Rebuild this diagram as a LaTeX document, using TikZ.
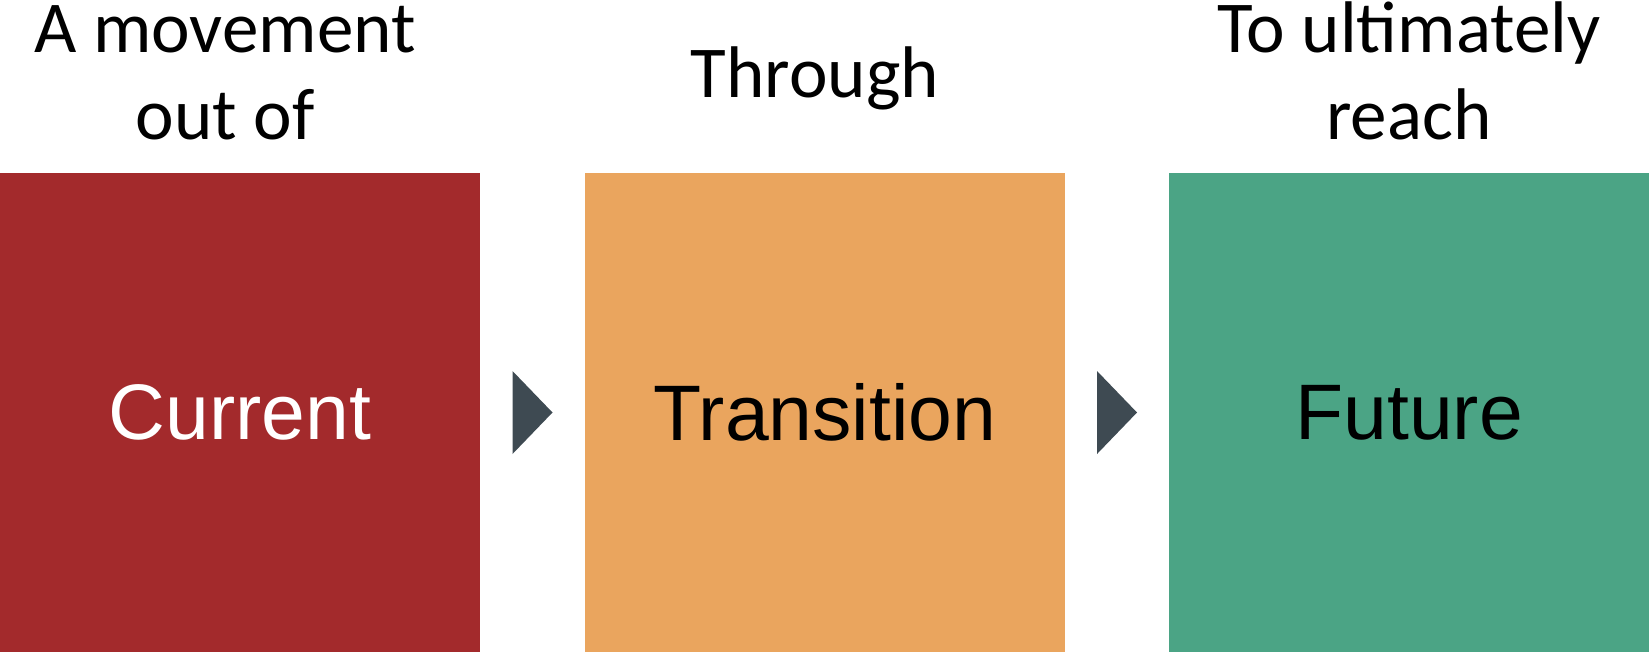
\documentclass[tikz,border=0pt]{standalone}
\usepackage{fontspec}
\usepackage{xcolor}
\usepackage{tikz}
\usetikzlibrary{positioning, calc}
\newfontfamily\boxfont{Liberation Sans}
\newfontfamily\lblfont{Carlito}
\definecolor{nowRed}{HTML}{A32A2C}
\definecolor{midOrange}{HTML}{EAA55E}
\definecolor{goalGreen}{HTML}{4BA485}
\definecolor{chevGrey}{HTML}{3E4A52}

\begin{document}
\begin{tikzpicture}[
  stagebox/.style={rectangle, minimum width=4.8cm, minimum height=4.79cm,
              inner sep=0pt, outer sep=0pt, align=center,
              font=\boxfont\fontsize{22.4}{26}\selectfont},
  toplbl/.style={align=center, inner sep=0pt, outer sep=0pt, text=black,
              font=\lblfont\fontsize{20.8}{24.75}\selectfont},
  chev/.style={fill=chevGrey},
]
  \useasboundingbox (0,0) rectangle (16.49,-6.52);

  % ═══ The three stages, left to right ═══
  \node[stagebox, fill=nowRed, text=white, anchor=north west] at (0,-1.73) (cur) {Current};
  \node[stagebox, fill=midOrange, text=black, right=1.05cm of cur] (trans) {Transition};
  \node[stagebox, fill=goalGreen, text=black, right=1.04cm of trans] (fut) {Future};

  % Headings above each stage
  \node[toplbl, above=0.33cm of cur, xshift=-0.15cm] (lblcur) {A movement\\out of};
  \node[toplbl, anchor=base] at ($(trans.north)+(-0.10,0.76)$) (lbltrans) {Through};
  \node[toplbl, above=0.33cm of fut] (lblfut) {To ultimately\\reach};

  % Small chevrons in the gaps
  \foreach \a/\b in {cur/trans, trans/fut}
    \fill[chev] ($(\a.east)!0.5!(\b.west)+(-0.20,0.415)$) -- ++(0.40,-0.415)
                -- ++(-0.40,-0.415) -- cycle;
\end{tikzpicture}
\end{document}
